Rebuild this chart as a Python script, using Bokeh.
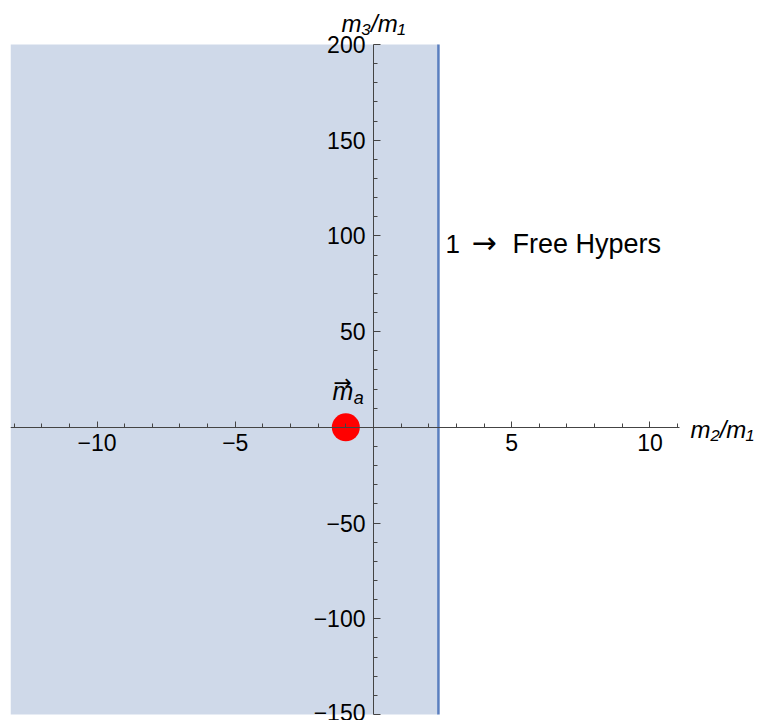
from bokeh.plotting import figure
from bokeh.models import LinearAxis, FixedTicker, Label, Range1d
from bokeh.embed import file_html
from bokeh.resources import INLINE

# ---- data ----
x_lims = [-13.13, 11.07]       # plot range of m2/m1
y_lims = [-150, 200]           # plot range of m3/m1
boundary_x = [2.35]            # m2/m1 boundary of the shaded region
point_x = [-1.0]               # m_a location
point_y = [0.0]
region_label_y = 96

x_major = [-10, -5, 5, 10]
x_minor = [v for v in range(-13, 12) if v % 5 != 0]
y_major = [-150, -100, -50, 50, 100, 150, 200]
y_minor = [v for v in range(-150, 201, 10) if v % 50 != 0]

FONT = "Liberation Sans"
ARROW_FONT = "DejaVu Sans"

# the frame fills the canvas (except a small left margin) so labels outside
# the data window are not clipped; axis lines are bounded to the data window
px_per_y = 670 / (y_lims[1] - y_lims[0])
px_per_x = 669 / (x_lims[1] - x_lims[0])
y_view = [y_lims[0] - 6 / px_per_y, y_lims[1] + 44 / px_per_y]
x_view = [x_lims[0], x_lims[1] + 82 / px_per_x]

p = figure(width=761, height=720, output_backend="svg", toolbar_location=None,
           x_range=Range1d(*x_view), y_range=Range1d(*y_view),
           x_axis_type=None, y_axis_type=None,
           min_border_left=10, min_border_right=0, min_border_top=0, min_border_bottom=0)
p.outline_line_color = None
p.grid.visible = False
p.background_fill_color = "white"

# shaded region
p.quad(left=[x_lims[0]], right=boundary_x, bottom=[y_lims[0]], top=[y_lims[1]],
       fill_color="#CFD9E9", line_color=None)
p.line(x=[boundary_x[0], boundary_x[0]], y=y_lims, line_color="#5B7FBF", line_width=2.5)

# point
p.scatter(point_x, point_y, size=28, fill_color="#FF0000", line_color=None)

def style_axis(ax, tick_len, minor_len):
    ax.axis_line_color = "#444444"
    ax.axis_line_width = 1
    ax.major_tick_line_color = "#444444"
    ax.minor_tick_line_color = "#444444"
    ax.major_tick_in = tick_len
    ax.major_tick_out = 0
    ax.minor_tick_in = minor_len
    ax.minor_tick_out = 0
    ax.major_label_text_font = FONT
    ax.major_label_text_font_size = "23px"
    ax.major_label_text_color = "black"

def fmt(v):
    return ("\u2212" + str(-v)) if v < 0 else str(v)

xaxis = LinearAxis(fixed_location=0, bounds=tuple(x_lims),
                   ticker=FixedTicker(ticks=x_major, minor_ticks=x_minor),
                   major_label_overrides={v: fmt(v) for v in x_major})
style_axis(xaxis, 6, 4)
xaxis.major_label_standoff = 7
p.add_layout(xaxis, "below")

yaxis = LinearAxis(fixed_location=0, bounds=tuple(y_lims),
                   ticker=FixedTicker(ticks=y_major, minor_ticks=y_minor),
                   major_label_overrides={v: fmt(v) for v in y_major})
style_axis(yaxis, 7, 4)
yaxis.major_label_standoff = 8
p.add_layout(yaxis, "left")

# axis titles
p.add_layout(Label(x=x_lims[1], y=0, x_offset=11, y_offset=-2, text="m₂/m₁", text_font=FONT,
                   text_font_style="italic", text_font_size="24px", text_baseline="middle",
                   text_align="left", text_color="black"))
p.add_layout(Label(x=0, y=y_lims[1], y_offset=21, text="m₃/m₁", text_font=FONT,
                   text_font_style="italic", text_font_size="24px", text_baseline="middle",
                   text_align="center", text_color="black"))

# region label: "1 → Free Hypers"
p.add_layout(Label(x=boundary_x[0], y=region_label_y, x_offset=7, text="1", text_font=FONT,
                   text_font_size="26px", text_baseline="middle", text_align="left",
                   text_color="black"))
p.add_layout(Label(x=boundary_x[0], y=region_label_y, x_offset=33, y_offset=1, text="→",
                   text_font=ARROW_FONT, text_font_size="30px", text_baseline="middle",
                   text_align="left", text_color="black"))
p.add_layout(Label(x=boundary_x[0], y=region_label_y, x_offset=74, text="Free Hypers", text_font=FONT,
                   text_font_size="27px", text_baseline="middle", text_align="left",
                   text_color="black"))

# point label: m_a with an arrow over the m
p.add_layout(Label(x=point_x[0], y=point_y[0], x_offset=-3, y_offset=36, text="m", text_font=FONT,
                   text_font_style="italic", text_font_size="25px", text_baseline="middle",
                   text_align="center", text_color="black"))
p.add_layout(Label(x=point_x[0], y=point_y[0], x_offset=8, y_offset=29, text="a", text_font=FONT,
                   text_font_style="italic", text_font_size="18px", text_baseline="middle",
                   text_align="left", text_color="black"))
p.add_layout(Label(x=point_x[0], y=point_y[0], x_offset=-3, y_offset=45, text="→", text_font=ARROW_FONT,
                   text_font_size="22px", text_baseline="middle", text_align="center",
                   text_color="black"))

open("out.html", "w").write(file_html(p, INLINE))
